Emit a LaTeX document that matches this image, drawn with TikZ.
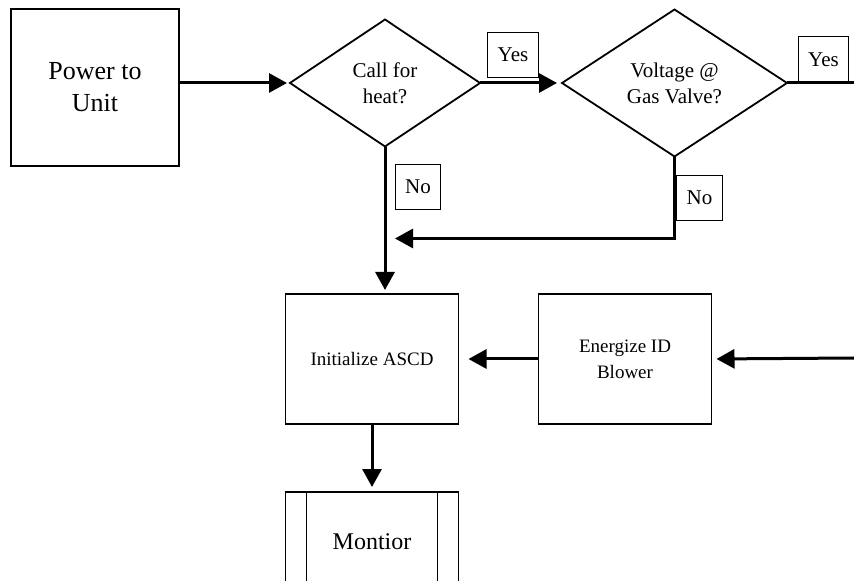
\documentclass[tikz,border=0pt]{standalone}
\usepackage{fontspec}
\setmainfont{Liberation Serif}
\usetikzlibrary{positioning,shapes.geometric,arrows.meta}

\begin{document}
\begin{tikzpicture}[x=0.5pt, y=-0.5pt, >={Triangle[length=9pt,width=9.5pt]}, every node/.style={outer sep=0pt},
  procbox/.style={draw, line width=0.9pt, align=center, inner sep=0pt, minimum width=86.5pt, minimum height=65pt, font=\fontsize{9.5}{13}\selectfont},
  decision/.style={draw, diamond, line width=0.9pt, align=center, inner sep=0pt, shape aspect=1.5, font=\fontsize{10.5}{13}\selectfont},
  answer/.style={draw, line width=0.5pt, inner ysep=0pt, inner xsep=5pt, minimum height=22.5pt, font=\fontsize{10.5}{12}\selectfont},
  flow/.style={line width=1.5pt}]
\useasboundingbox (0,0) rectangle (854,581);
\node[draw, line width=0.9pt, align=center, minimum width=84pt, minimum height=78.5pt, font=\fontsize{13}{16}\selectfont] (power) at (95,87.5) {Power to\\Unit};
\node[decision, minimum width=95pt, minimum height=63.5pt, right=55.5pt of power, yshift=2.25pt] (heat) {Call for\\heat?};
\node[decision, minimum width=112.5pt, minimum height=73.5pt, right=41pt of heat] (valve) {Voltage @\\Gas Valve?};
\node[procbox] (ascd) at (372,359) {Initialize ASCD};
\node[procbox, right=40pt of ascd] (blower) {Energize ID\\Blower};
\node[procbox, minimum height=50pt, below=34pt of ascd, font=\fontsize{12}{15}\selectfont] (monitor) {Montior};
\draw[line width=0.9pt] ([xshift=10.5pt]monitor.north west) -- ([xshift=10.5pt]monitor.south west);
\draw[line width=0.9pt] ([xshift=-10.5pt]monitor.north east) -- ([xshift=-10.5pt]monitor.south east);
% answers
\node[answer] (yes1) at (513,55) {Yes};
\node[answer] (yes2) at (823.5,59.5) {Yes};
\node[answer] (no1) at (418,187) {No};
\node[answer] (no2) at (699.5,198) {No};
% free ends at the right edge
\coordinate (exit) at (854,83);
\coordinate (enter) at (854,358);
\path (heat.south) ++(0,92) coordinate (merge);
\draw[->, flow, shorten >=1.5pt] (power.east |- heat.west) -- (heat.west);
\draw[->, flow, shorten >=2.5pt] (heat.east) -- (valve.west);
\draw[flow] (valve.east) -- (exit);
\draw[->, flow, shorten >=2pt] (heat.south) -- (heat.south |- ascd.north);
\draw[->, flow, shorten >=5pt] (valve.south) |- (merge);
\draw[->, flow, shorten >=5pt] (blower.west) -- (ascd.east);
\draw[->, flow, shorten >=2.5pt] (enter) -- (blower.east);
\draw[->, flow, shorten >=2.5pt] (ascd.south) -- (monitor.north);
\end{tikzpicture}
\end{document}
